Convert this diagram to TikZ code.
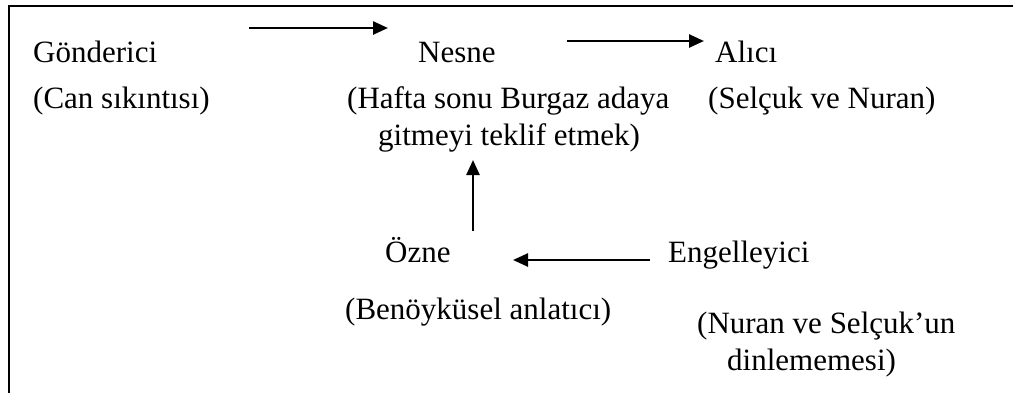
\documentclass[tikz,border=0pt]{standalone}
\usepackage{fontspec}
\setmainfont{Liberation Serif}
\usetikzlibrary{arrows.meta}
\begin{document}
\begin{tikzpicture}[x=1pt,y=-1pt,
  lbl/.style={anchor=base west,inner sep=0pt,font=\fontsize{31}{37}\selectfont},
  flow/.style={line width=2.5pt,-{Triangle[length=15pt,width=13pt]}},
  frame/.style={line width=2pt}]
\useasboundingbox (0,0) rectangle (1013,392);
\clip (0,0) rectangle (1013,392);
% outer frame (only the top and left edges fall inside the page)
\draw[frame] (9,400) -- (9,6) -- (1020,6);

% actants
\node[lbl] (gon)  at (33,62)   {Gönderici};
\node[lbl] (gon2) at (33,108)  {(Can sıkıntısı)};
\node[lbl] (nes)  at (418,62)  {Nesne};
\node[lbl] (nes2) at (347,108) {(Hafta sonu Burgaz adaya};
\node[lbl] (nes3) at (378,145) {gitmeyi teklif etmek)};
\node[lbl] (ali)  at (715,62)  {Alıcı};
\node[lbl] (ali2) at (708,108) {(Selçuk ve Nuran)};
\node[lbl] (ozn)  at (385,262) {Özne};
\node[lbl] (ozn2) at (345,319) {(Benöyküsel anlatıcı)};
\node[lbl] (eng)  at (668,262) {Engelleyici};
\node[lbl] (eng2) at (697,333) {(Nuran ve Selçuk’un};
\node[lbl] (eng3) at (727,370) {dinlememesi)};

% arrow end points
\coordinate (a1s) at (249,28);  \coordinate (a1e) at (388,28);
\coordinate (a2s) at (567,41);  \coordinate (a2e) at (704,41);
\coordinate (a3s) at (473,231); \coordinate (a3e) at (473,160);
\coordinate (a4s) at (650,260); \coordinate (a4e) at (513,260);

\draw[flow] (a1s) -- (a1e);
\draw[flow] (a2s) -- (a2e);
\draw[flow] (a3s) -- (a3e);
\draw[flow] (a4s) -- (a4e);
\end{tikzpicture}
\end{document}
